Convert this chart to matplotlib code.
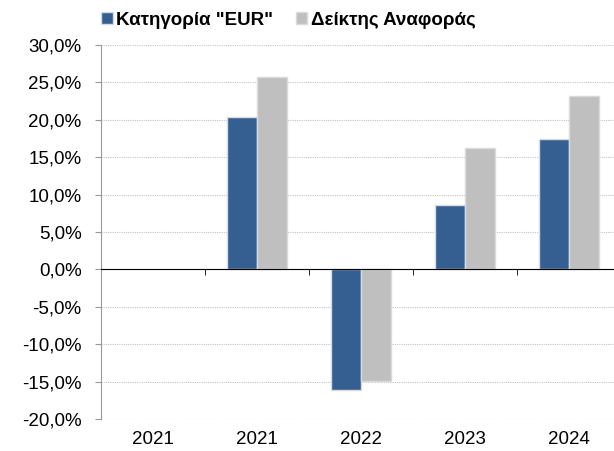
import numpy as np
import matplotlib.pyplot as plt
from matplotlib.ticker import FuncFormatter, MultipleLocator

plt.rcParams['font.family'] = ['Liberation Sans', 'DejaVu Sans']

years = ["2021", "2021", "2022", "2023", "2024"]
eur = [np.nan, 20.4, -16.1, 8.6, 17.4]
benchmark = [np.nan, 25.7, -14.9, 16.2, 23.2]
labels = ['Κατηγορία "EUR"', 'Δείκτης Αναφοράς']

fig = plt.figure(figsize=(6.14, 4.51), dpi=100)
ax = fig.add_axes([101/614, 1-419/451, 520/614, 374/451])

x = np.arange(len(years))
w = 0.29
b1 = ax.bar(x - w/2, eur, w, color='#365F91', edgecolor='#dadada', linewidth=1, label=labels[0], zorder=3)
b2 = ax.bar(x + w/2, benchmark, w, color='#BFBFBF', edgecolor='#dadada', linewidth=1, label=labels[1], zorder=3)

ax.set_ylim(-20, 30)
ax.set_xlim(-0.5, len(years) - 0.5)
ax.yaxis.set_major_locator(MultipleLocator(5))
ax.yaxis.set_major_formatter(FuncFormatter(lambda v, p: ("%.1f%%" % v).replace(".", ",")))
ax.yaxis.grid(True, color='#c4c4c4', linestyle=(0, (1, 1)), linewidth=0.8)
ax.set_axisbelow(True)

for s in ['top', 'right']:
    ax.spines[s].set_visible(False)
ax.spines['left'].set_color('#999999')
ax.spines['bottom'].set_position(('data', 0))
ax.spines['bottom'].set_color('black')
ax.spines['bottom'].set_zorder(4)

ax.set_xticks(x)
ax.set_xticklabels(years)
ax.set_xticks(np.arange(len(years) + 1) - 0.5, minor=True)
ax.tick_params(axis='x', which='major', length=0, pad=116, labelsize=13.5)
ax.tick_params(axis='x', which='minor', length=4, color='black', direction='out')
ax.tick_params(axis='y', length=4, color='#999999', pad=10, labelsize=13.5)

fig.legend(handles=[b1, b2], labels=labels, loc='center', bbox_to_anchor=(0.47, 0.955),
           ncol=2, frameon=False, prop={'weight': 'bold', 'size': 13.5},
           handlelength=0.6, handleheight=0.6, handletextpad=0.2, columnspacing=1.2)

fig.savefig('out.png', dpi=100)
